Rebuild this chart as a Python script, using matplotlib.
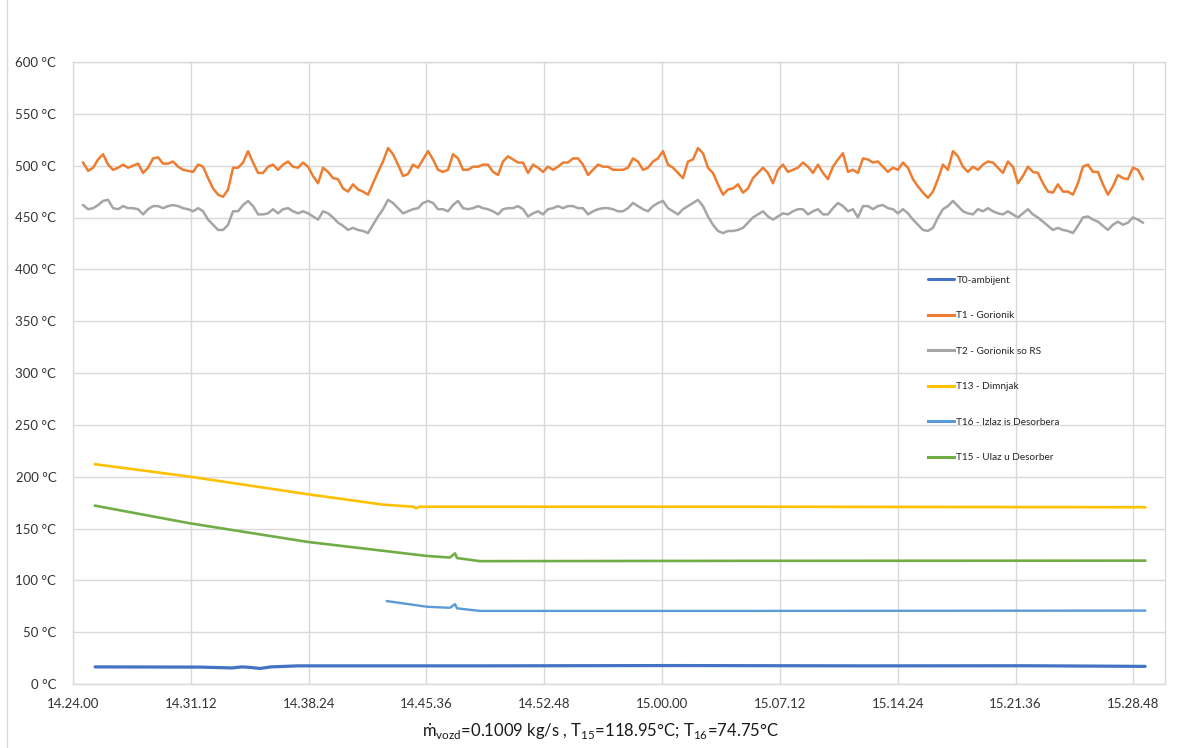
import matplotlib
matplotlib.use("Agg")
import matplotlib.pyplot as plt
from matplotlib.lines import Line2D
import numpy as np

plt.rcParams['font.family'] = ['Lato', 'DejaVu Sans']
plt.rcParams['mathtext.fontset'] = 'custom'
plt.rcParams['mathtext.rm'] = 'Lato'

# ---------------- data ----------------
# time axis in seconds after 14:24:00
tick_labels = ["14.24.00", "14.31.12", "14.38.24", "14.45.36", "14.52.48",
               "15.00.00", "15.07.12", "15.14.24", "15.21.36", "15.28.48"]
tick_step_s = 432

# T1 / T2 sampled on a regular grid
t12_start_s = 37
t12_step_s = 18.33
T1 = [503,495,498,506,511,501,496,498,501,498,500,502,493,498,507,508,502,502,504,499,496,495,494,501,499,488,478,472,470,477,498,498,503,514,503,493,
      493,499,501,496,501,504,499,498,503,499,490,483,498,494,488,487,478,475,482,477,475,472,483,494,504,517,511,501,490,492,501,498,506,514,506,496,
      494,496,511,507,496,496,499,499,501,501,494,491,504,509,506,503,503,493,501,498,494,499,496,499,503,503,507,507,501,491,496,501,499,499,496,496,
      496,498,507,504,496,498,504,507,514,501,498,493,488,504,506,517,512,498,493,482,472,477,478,482,474,478,488,493,498,493,483,496,501,494,496,498,
      503,499,493,501,493,487,499,506,512,494,496,493,507,506,503,504,499,494,498,496,503,498,487,480,474,469,475,487,501,496,514,509,499,494,499,496,
      501,504,503,498,493,504,499,483,490,499,494,493,483,475,474,482,475,475,472,483,499,501,494,494,482,472,480,491,488,487,498,496,487]
T2 = [462,458,459,462,466,467,459,458,461,459,459,458,453,458,461,461,459,461,462,461,459,458,456,459,456,448,443,438,438,443,456,456,462,466,461,453,
      453,454,458,454,458,459,456,454,456,454,451,448,456,454,450,445,442,438,440,438,437,435,443,451,458,467,464,459,454,456,458,459,464,466,464,458,
      458,456,462,466,459,458,459,461,459,458,456,453,458,459,459,461,458,451,454,456,453,458,459,461,459,461,461,459,459,453,456,458,459,459,458,456,
      456,459,464,461,458,456,461,464,466,459,456,453,458,461,464,467,461,451,443,437,435,437,437,438,440,445,450,453,456,451,448,451,454,453,456,458,
      458,453,456,458,453,453,459,464,461,456,458,450,461,461,458,461,462,459,458,454,458,454,448,443,438,437,440,450,458,461,466,461,456,454,453,458,
      456,459,456,454,453,456,453,450,454,458,453,450,446,442,438,440,438,437,435,442,450,451,448,446,442,438,443,446,443,445,450,448,445]

# other series as read breakpoints (time s, value)
T0_t = [81, 466, 583, 620, 649, 686, 726, 825, 1500, 2200, 2900, 3500, 3931]
T0_v = [16.5, 16.3, 15.5, 16.5, 16.0, 15.0, 16.5, 17.5, 17.5, 17.8, 17.5, 17.6, 17.0]

T13_t = [81, 429, 862, 1137, 1247, 1258, 1272, 2500, 3931]
T13_v = [212, 200, 183, 173, 171, 169.5, 171, 171, 170.5]

T16_t = [1151, 1298, 1382, 1401, 1408, 1492, 2500, 3931]
T16_v = [80, 74.5, 73.5, 77, 73, 70.5, 70.5, 70.8]

T15_t = [81, 429, 862, 1137, 1298, 1382, 1401, 1408, 1492, 2500, 3931]
T15_v = [172, 155, 137, 128.5, 123.5, 122, 126, 121.5, 118.5, 118.8, 119]

labels = ["T0-ambijent", "T1 - Gorionik", "T2 - Gorionik so RS",
          "T13 - Dimnjak", "T16 - Izlaz is Desorbera", "T15 - Ulaz u Desorber"]
colors = ["#4472C4", "#ED7D31", "#A5A5A5", "#FFC000", "#5B9BD5", "#70AD47"]

# ---------------- plot ----------------
W, H = 1192, 748
fig = plt.figure(figsize=(W / 100, H / 100), dpi=100)
left, right, top, bottom = 73, 1165, 62, 684
ax = fig.add_axes([left / W, (H - bottom) / H, (right - left) / W, (bottom - top) / H])

t12 = t12_start_s + t12_step_s * np.arange(len(T1))

ax.plot(T0_t, T0_v, color=colors[0], lw=2.3, label=labels[0], solid_capstyle='round')
ax.plot(t12, T1, color=colors[1], lw=1.8, label=labels[1])
ax.plot(t12, T2, color=colors[2], lw=1.8, label=labels[2])
ax.plot(T13_t, T13_v, color=colors[3], lw=1.9, label=labels[3])
ax.plot(T16_t, T16_v, color=colors[4], lw=1.7, label=labels[4])
ax.plot(T15_t, T15_v, color=colors[5], lw=1.9, label=labels[5])

xt = np.arange(len(tick_labels)) * tick_step_s
ax.set_xlim(0, 4004)
ax.set_ylim(0, 600)
ax.set_xticks(xt)
ax.set_xticklabels(tick_labels, fontsize=9.5, color="#333333")
yt = np.arange(0, 601, 50)
ax.set_yticks(yt)
ax.set_yticklabels([f"{v} °C" for v in yt], fontsize=9.5, color="#333333")
ax.tick_params(length=0, pad=12)
ax.tick_params(axis='x', pad=10)
ax.grid(True, color="#D9D9D9", lw=1)
ax.set_axisbelow(True)
for s in ax.spines.values():
    s.set_color("#D9D9D9")
    s.set_linewidth(1)

leg = ax.legend(loc='upper left', bbox_to_anchor=(928 / W, 1 - 276 / H),
                bbox_transform=fig.transFigure, frameon=False, fontsize=7.2,
                labelspacing=2.65, handlelength=2.6, handletextpad=0.25,
                borderaxespad=0, borderpad=0, labelcolor="#262626")
for line in leg.get_lines():
    line.set_linewidth(2.2)

fig.text(600 / W, 1 - 731 / H,
         r'ṁ$_{\mathregular{vozd}}$=0.1009 kg/s , T$_{\mathregular{15}}$=118.95°C; T$_{\mathregular{16}}$=74.75°C',
         ha='center', va='center', fontsize=12, color="#1a1a1a",
         family=['Lato', 'DejaVu Sans'])

# outer chart border (left edge visible in the reference)
fig.add_artist(Line2D([7.5 / W, 7.5 / W], [0, 1], transform=fig.transFigure,
                      color="#D9D9D9", lw=1))

fig.savefig("out.png", dpi=100, facecolor="white")
